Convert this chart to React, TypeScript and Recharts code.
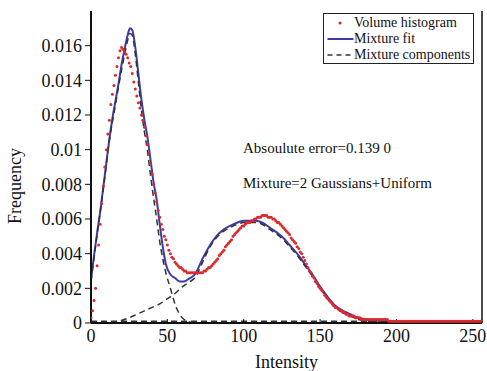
import { ComposedChart, Line, Scatter, XAxis, YAxis, Label } from 'recharts'

const FONT = '"Liberation Serif", "Times New Roman", serif'

// histogram bins 0..255
const intensity = Array.from({ length: 256 }, (_, i) => i)
const histogram = [
  0.0003, 0.0007, 0.0013, 0.002, 0.0033, 0.0045, 0.0057, 0.0069, 0.0079, 0.009,
  0.01, 0.0109, 0.0117, 0.0126, 0.0132, 0.0137, 0.0143, 0.0148, 0.0153, 0.0157,
  0.0159, 0.0158, 0.01565, 0.0155, 0.0153, 0.015, 0.0148, 0.0144, 0.0139, 0.0135,
  0.0131, 0.0127, 0.0124, 0.012, 0.0117, 0.0113, 0.0108, 0.0103, 0.0098, 0.0092,
  0.0086, 0.008, 0.0075, 0.007, 0.0065, 0.0061, 0.0057, 0.0054, 0.005, 0.0048,
  0.0045, 0.0042, 0.004, 0.0038, 0.0037, 0.0035, 0.0034, 0.0033, 0.0032, 0.0032,
  0.0031, 0.003, 0.003, 0.0029, 0.0029, 0.0029, 0.0029, 0.0029, 0.0029, 0.0029,
  0.0029, 0.0029, 0.0029, 0.0029, 0.003, 0.003, 0.0031, 0.0032, 0.0032, 0.0033,
  0.0034, 0.0035, 0.0036, 0.0037, 0.0039, 0.004, 0.0041, 0.0042, 0.0044, 0.0045,
  0.0046, 0.0047, 0.0048, 0.005, 0.0051, 0.0052, 0.0053, 0.0054, 0.0055, 0.0056,
  0.0056, 0.0057, 0.0058, 0.0058, 0.0058, 0.0059, 0.0059, 0.006, 0.006, 0.0061,
  0.0061, 0.0061, 0.0062, 0.0062, 0.0062, 0.0062, 0.0061, 0.0061, 0.0061, 0.006,
  0.006, 0.0059, 0.0058, 0.0058, 0.0057, 0.0056, 0.0055, 0.0054, 0.0053, 0.0052,
  0.0051, 0.0049, 0.0048, 0.0047, 0.0046, 0.0044, 0.0043, 0.0041, 0.004, 0.0038,
  0.0036, 0.0034, 0.0032, 0.003, 0.0029, 0.0027, 0.0026, 0.0024, 0.0023, 0.0021,
  0.002, 0.0019, 0.0018, 0.0016, 0.0015, 0.0014, 0.0013, 0.0012, 0.0011, 0.001,
  0.0009, 0.0009, 0.0008, 0.0007, 0.0007, 0.0006, 0.0006, 0.0005, 0.0005, 0.0004,
  0.0004, 0.0004, 0.0004, 0.0003, 0.0003, 0.0003, 0.0003, 0.0002, 0.0002, 0.0002,
  0.0002, 0.0002, 0.0002, 0.0002, 0.0002, 0.0002, 0.0002, 0.0002, 0.0002, 0.0002,
  0.0002, 0.0002, 0.0002, 0.0002, 0.0002, 0.0001, 0.0001, 0.0001, 0.0001, 0.0001,
  0.0001, 0.0001, 0.0001, 0.0001, 0.0001, 0.0001, 0.0001, 0.0001, 0.0001, 0.0001,
  0.0001, 0.0001, 0.0001, 0.0001, 0.0001, 0.0001, 0.0001, 0.0001, 0.0001, 0.0001,
  0.0001, 0.0001, 0.0001, 0.0001, 0.0001, 0.0001, 0.0001, 0.0001, 0.0001, 0.0001,
  0.0001, 0.0001, 0.0001, 0.0001, 0.0001, 0.0001, 0.0001, 0.0001, 0.0001, 0.0001,
  0.0001, 0.0001, 0.0001, 0.0001, 0.0001, 0.0001, 0.0001, 0.0001, 0.0001, 0.0001,
  0.0001, 0.0001, 0.0001, 0.0001, 0.0001, 0.0001,
]

// mixture fit
const fitX = [
  0, 2, 4, 6, 8, 10, 12, 14, 16, 18, 20, 22, 24, 25.5, 27, 29, 31, 33, 35, 37,
  39, 41, 43, 45, 47, 49, 52, 55, 58, 61, 64, 68, 73, 78, 82, 87, 91, 96, 100, 105,
  108, 112, 117, 122, 126, 130, 135, 140, 145, 150, 155, 160, 165, 170, 175, 180, 190, 200, 220, 255,
]
const fitY = [
  0.0025, 0.0039, 0.0052, 0.0064, 0.0078, 0.0092, 0.0106, 0.0118, 0.0128, 0.0138,
  0.0149, 0.0158, 0.0166, 0.017, 0.0169, 0.0159, 0.0144, 0.0129, 0.0117, 0.0107,
  0.0094, 0.0081, 0.0071, 0.0057, 0.0044, 0.0034, 0.0028, 0.0026, 0.0024, 0.0024,
  0.00255, 0.0028, 0.0037, 0.0045, 0.005, 0.0054, 0.0056, 0.0058, 0.0059, 0.0059,
  0.0059, 0.0058, 0.0055, 0.0052, 0.0049, 0.0045, 0.004, 0.0034, 0.0028, 0.0021,
  0.0015, 0.001, 0.0007, 0.0005, 0.0003, 0.00022, 0.00012, 0.00008, 0.00006, 0.00005,
]

// components: gaussian 1, gaussian 2, uniform
const g1X = [0, 4, 8, 12, 16, 20, 22, 24, 25.5, 27, 29, 31, 33, 35, 37, 39, 41, 43, 45, 47, 49, 52, 55, 58, 61, 65, 70]
const g1Y = [
  0.0024, 0.0051, 0.0077, 0.0105, 0.0126, 0.0146, 0.0155, 0.0163, 0.0167, 0.0166,
  0.0155, 0.0139, 0.0123, 0.011, 0.0099, 0.0085, 0.0072, 0.006, 0.0047, 0.0037,
  0.0029, 0.002, 0.0011, 0.0005, 0.0002, 0.00005, 0,
]
const g2X = [
  0, 10, 15, 20, 25, 30, 35, 40, 45, 50, 55, 60, 65, 68, 73, 78, 82, 87, 91, 96,
  100, 105, 108, 112, 117, 122, 126, 130, 135, 140, 145, 150, 155, 160, 165, 170, 175, 180, 190, 200,
]
const g2Y = [
  0, 0.00002, 0.00006, 0.00015, 0.0003, 0.0005, 0.0007, 0.0009, 0.0011, 0.0014,
  0.0017, 0.0021, 0.0024, 0.0026, 0.0035, 0.0044, 0.0049, 0.0053, 0.0055, 0.0057,
  0.0058, 0.0058, 0.0058, 0.0057, 0.0054, 0.0051, 0.0048, 0.0044, 0.0039, 0.0033,
  0.0027, 0.002, 0.0014, 0.0009, 0.0006, 0.0004, 0.0002, 0.00012, 0.00004, 0,
]
const uniX = [0, 255]
const uniY = [0.0001, 0.0001]

const xTicks = [0, 50, 100, 150, 200, 250]
const yTicks = [0, 0.002, 0.004, 0.006, 0.008, 0.01, 0.012, 0.014, 0.016]

const legendItems = ['Volume histogram', 'Mixture fit', 'Mixture components']
const notes = ['Absoulute error=0.139 0', 'Mixture=2 Gaussians+Uniform']

const RED = '#e0282c'
const BLUE = '#3c3ca6'
const DASH = '#333'
const AXIS = '#111'

const zip = (xs: number[], ys: number[]) => xs.map((x, i) => ({ x, y: ys[i] }))

const histData = zip(intensity, histogram)
const fitData = zip(fitX, fitY)
const g1Data = zip(g1X, g1Y)
const g2Data = zip(g2X, g2Y)
const uniData = zip(uniX, uniY)

const tickStyle = { fill: AXIS, fontSize: 18, fontFamily: FONT }

function LegendBox() {
  return (
    <div
      style={{
        position: 'absolute',
        left: 323,
        top: 13,
        width: 149,
        height: 48,
        paddingTop: 0.5,
        border: '1.5px solid #222',
        background: '#fff',
        fontFamily: FONT,
        fontSize: 14,
        color: AXIS,
      }}
    >
      {legendItems.map((name, i) => (
        <div key={name} style={{ display: 'flex', alignItems: 'center', height: 16 }}>
          <svg width={30} height={16}>
            {i === 0 && <circle cx={16} cy={8} r={1.5} fill={RED} />}
            {i === 1 && <line x1={3.5} x2={29.5} y1={8} y2={8} stroke={BLUE} strokeWidth={2} />}
            {i === 2 && (
              <line x1={3.5} x2={29.5} y1={8} y2={8} stroke={DASH} strokeWidth={1.5} strokeDasharray="5 4" />
            )}
          </svg>
          <span style={{ lineHeight: '16px', whiteSpace: 'nowrap' }}>{name}</span>
        </div>
      ))}
    </div>
  )
}

export default function App() {
  return (
    <div style={{ position: 'absolute', left: 0, top: 0, width: 487, height: 371, background: '#fff' }}>
      <ComposedChart width={487} height={371} margin={{ top: 11, right: 0, bottom: 0, left: 0 }}>
        <XAxis
          xAxisId="b"
          type="number"
          dataKey="x"
          domain={[0, 256]}
          allowDataOverflow
          ticks={xTicks}
          interval={0}
          height={48}
          tickSize={-4}
          tickMargin={10}
          axisLine={{ stroke: AXIS, strokeWidth: 2 }}
          tickLine={{ stroke: AXIS }}
          tick={tickStyle}
        >
          <Label value="Intensity" position="insideBottom" offset={3} style={{ fill: AXIS, fontSize: 18, fontFamily: FONT }} />
        </XAxis>
        <XAxis
          xAxisId="t"
          orientation="top"
          type="number"
          dataKey="x"
          domain={[0, 256]}
          allowDataOverflow
          ticks={xTicks}
          interval={0}
          height={0}
          tickSize={-4}
          tick={false}
          axisLine={{ stroke: AXIS, strokeWidth: 1.5 }}
          tickLine={{ stroke: AXIS }}
        />
        <YAxis
          yAxisId="l"
          type="number"
          dataKey="y"
          domain={[0, 0.018]}
          allowDataOverflow
          ticks={yTicks}
          interval={0}
          width={91}
          tickSize={6}
          tickMargin={3}
          axisLine={{ stroke: AXIS, strokeWidth: 2 }}
          tickLine={{ stroke: AXIS }}
          tick={tickStyle}
        >
          <Label
            content={() => (
              <text
                x={15}
                y={186}
                transform="rotate(-90 15 186)"
                textAnchor="middle"
                dominantBaseline="central"
                style={{ fill: AXIS, fontSize: 18, fontFamily: FONT }}
              >
                Frequency
              </text>
            )}
          />
        </YAxis>
        <YAxis
          yAxisId="r"
          orientation="right"
          type="number"
          dataKey="y"
          domain={[0, 0.018]}
          allowDataOverflow
          ticks={yTicks}
          interval={0}
          width={5}
          tickSize={-4}
          tick={false}
          axisLine={{ stroke: AXIS, strokeWidth: 1.5 }}
          tickLine={{ stroke: AXIS }}
        />
        <Scatter
          xAxisId="b"
          yAxisId="l"
          data={histData}
          dataKey="y"
          isAnimationActive={false}
          shape={(p: any) => <circle cx={p.cx} cy={p.cy} r={1.5} fill={RED} />}
        />
        <Line
          xAxisId="b"
          yAxisId="l"
          data={fitData}
          dataKey="y"
          type="monotone"
          stroke={BLUE}
          strokeWidth={2}
          dot={false}
          isAnimationActive={false}
        />
        {[g1Data, g2Data, uniData].map((d, i) => (
          <Line
            key={i}
            xAxisId="b"
            yAxisId="l"
            data={d}
            dataKey="y"
            type="monotone"
            stroke={DASH}
            strokeWidth={1.5}
            strokeDasharray="6 4"
            dot={false}
            isAnimationActive={false}
          />
        ))}
      </ComposedChart>
      <LegendBox />
      {notes.map((t, i) => (
        <div
          key={t}
          style={{
            position: 'absolute',
            left: 243,
            top: 139 + i * 35,
            fontFamily: FONT,
            fontSize: 15,
            lineHeight: '18px',
            color: AXIS,
            whiteSpace: 'nowrap',
          }}
        >
          {t}
        </div>
      ))}
    </div>
  )
}
